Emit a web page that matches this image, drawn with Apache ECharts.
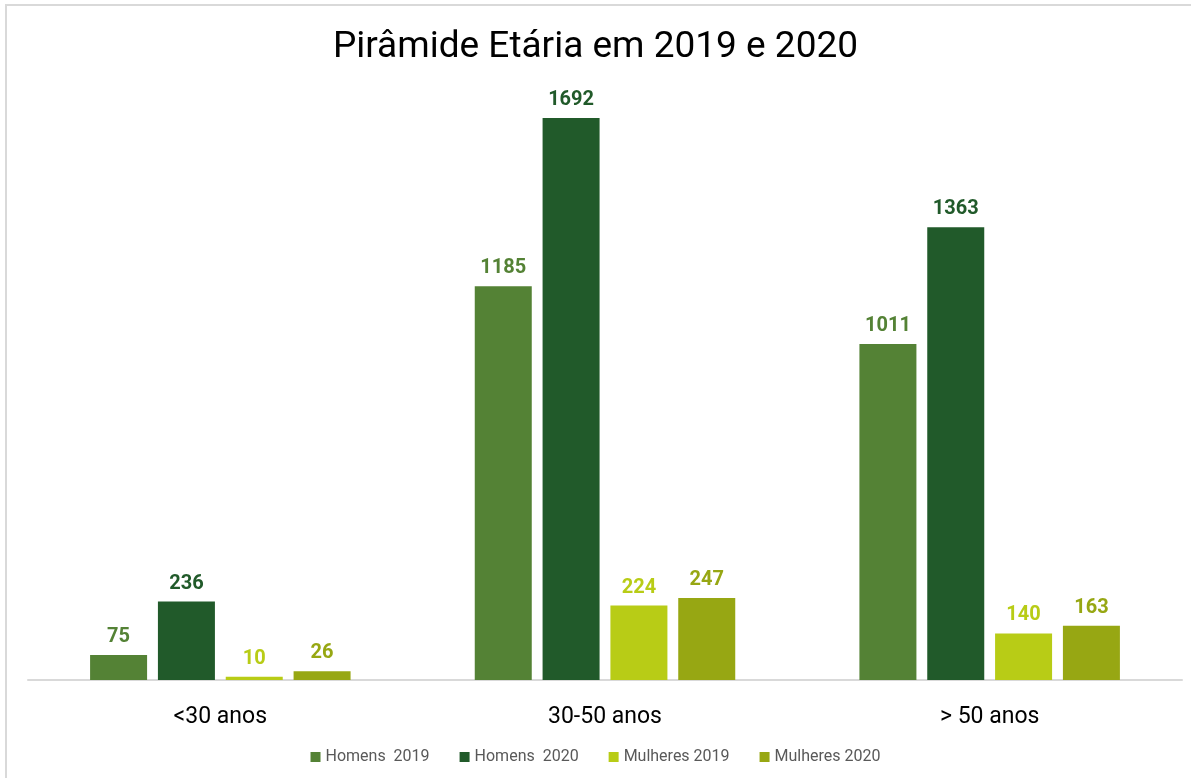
<!DOCTYPE html>
<html>
<head>
<meta charset="utf-8">
<script src="https://cdn.jsdelivr.net/npm/echarts@6/dist/echarts.min.js"></script>
<style>
  html, body { margin: 0; padding: 0; background: #ffffff; }
  #chart { width: 1191px; height: 778px; }
</style>
</head>
<body>
<div id="chart"></div>
<script>
// Age groups and headcounts per year and gender
const categories = ['<30 anos', '30-50 anos', '> 50 anos'];
const seriesNames = ['Homens  2019', 'Homens  2020', 'Mulheres 2019', 'Mulheres 2020'];
const homens2019 = [75, 1185, 1011];
const homens2020 = [236, 1692, 1363];
const mulheres2019 = [10, 224, 140];
const mulheres2020 = [26, 247, 163];
const colors = ['#548235', '#215A2A', '#B8CC16', '#97A713'];

const values = [homens2019, homens2020, mulheres2019, mulheres2020];
const font = 'Roboto, "Noto Sans", sans-serif';

const chart = echarts.init(document.getElementById('chart'), null, { renderer: 'canvas' });

chart.setOption({
  backgroundColor: '#ffffff',
  animation: false,
  title: {
    text: 'Pirâmide Etária em 2019 e 2020',
    left: 'center',
    top: 24,
    textStyle: { fontFamily: font, fontSize: 37, fontWeight: 'normal', color: '#000000' }
  },
  graphic: [{
    type: 'rect',
    shape: { x: 6, y: 5, width: 1300, height: 900 },
    style: { fill: 'none', stroke: '#d9d9d9', lineWidth: 2 },
    silent: true
  }],
  legend: {
    bottom: 8,
    left: 'center',
    itemWidth: 10,
    itemHeight: 10,
    itemGap: 30,
    icon: 'rect',
    textStyle: { fontFamily: font, fontSize: 16, color: '#595959' },
    data: seriesNames
  },
  grid: { left: 28, right: 9, top: 82, bottom: 98 },
  xAxis: {
    type: 'category',
    data: categories,
    axisLine: { lineStyle: { color: '#d9d9d9', width: 2 } },
    axisTick: { show: false },
    axisLabel: { fontFamily: font, fontSize: 23, color: '#000000', margin: 26 }
  },
  yAxis: {
    type: 'value',
    min: 0,
    max: 1800,
    show: false,
    splitLine: { show: false }
  },
  series: values.map((v, i) => ({
    name: seriesNames[i],
    type: 'bar',
    data: v,
    barWidth: 57,
    barGap: '19%',
    itemStyle: { color: colors[i] },
    label: {
      show: true,
      position: 'top',
      distance: 8,
      fontFamily: font,
      fontSize: 20,
      fontWeight: 'bold',
      color: colors[i]
    }
  }))
});
</script>
</body>
</html>
